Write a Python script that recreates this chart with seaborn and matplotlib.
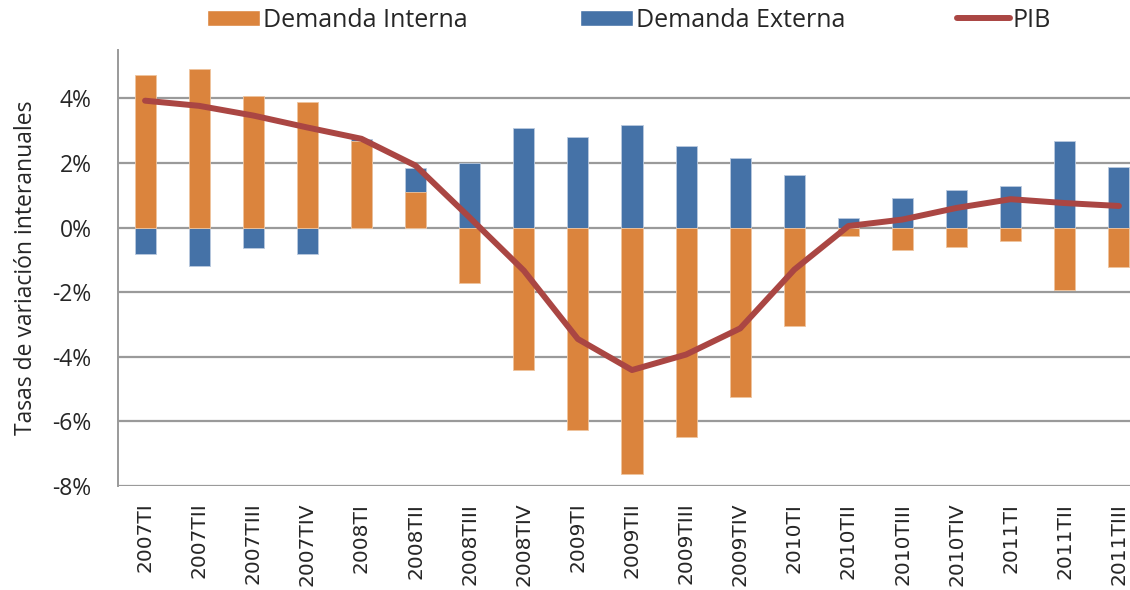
import numpy as np
import pandas as pd
import seaborn as sns
import matplotlib.pyplot as plt
from matplotlib.patches import Patch
from matplotlib.lines import Line2D
from matplotlib.ticker import FuncFormatter

quarters = ['2007TI', '2007TII', '2007TIII', '2007TIV',
            '2008TI', '2008TII', '2008TIII', '2008TIV',
            '2009TI', '2009TII', '2009TIII', '2009TIV',
            '2010TI', '2010TII', '2010TIII', '2010TIV',
            '2011TI', '2011TII', '2011TIII']
demanda_interna = [4.74, 4.92, 4.09, 3.89, 2.67, 1.09, -1.72, -4.40,
                   -6.26, -7.63, -6.49, -5.25, -3.05, -0.25, -0.69, -0.59,
                   -0.43, -1.93, -1.23]
demanda_externa = [-0.82, -1.18, -0.64, -0.82, 0.06, 0.76, 2.01, 3.07,
                   2.79, 3.19, 2.54, 2.14, 1.63, 0.29, 0.93, 1.17,
                   1.29, 2.67, 1.89]
pib = [3.93, 3.77, 3.47, 3.10, 2.75, 1.92, 0.31, -1.33,
       -3.45, -4.41, -3.93, -3.12, -1.30, 0.05, 0.25, 0.61,
       0.88, 0.76, 0.67]

c_int = '#DB843D'
c_ext = '#4572A7'
c_pib = '#AA4643'

df = pd.DataFrame({'trimestre': quarters, 'interna': demanda_interna,
                   'externa': demanda_externa, 'pib': pib})
# excel-style stacking: same-sign values pile up, opposite signs start at zero
same = np.sign(df['interna']) == np.sign(df['externa'])
df['externa_top'] = df['externa'] + np.where(same, df['interna'], 0)

sns.set_style('white')
plt.rcParams['font.family'] = ['Open Sans', 'DejaVu Sans']

fig = plt.figure(figsize=(11.3, 5.9), dpi=100)
ax = fig.add_axes([118 / 1130, 0.1763, 1028 / 1130, 0.739])

sns.barplot(data=df, x='trimestre', y='externa_top', color=c_ext, width=0.39,
            saturation=1, edgecolor='#b9c9de', linewidth=0.6, ax=ax, zorder=2)
sns.barplot(data=df, x='trimestre', y='interna', color=c_int, width=0.39,
            saturation=1, edgecolor='#efc49e', linewidth=0.6, ax=ax, zorder=3)
sns.pointplot(data=df, x='trimestre', y='pib', color=c_pib, markers='',
              linewidth=4.3, solid_capstyle='round', ax=ax, zorder=4)

ax.set_xlim(-0.5, 18.5)
ax.set_ylim(-8, 5.5)
ax.set_yticks([-8, -6, -4, -2, 0, 2, 4])
ax.yaxis.set_major_formatter(FuncFormatter(lambda v, p: f'{v:.0f}%'))
ax.set_axisbelow(True)
ax.grid(axis='y', color='#9a9a9a', linewidth=1.6)
ax.grid(axis='x', visible=False)
for s in ['top', 'right', 'bottom']:
    ax.spines[s].set_visible(False)
ax.spines['left'].set_color('#9a9a9a')
ax.spines['left'].set_linewidth(1.4)

ax.tick_params(axis='y', length=0, pad=19, labelsize=16.5)
ax.tick_params(axis='x', length=0, pad=12, labelrotation=90, labelsize=14.5,
               labelfontfamily='DejaVu Sans')
for lab in ax.get_xticklabels():
    lab.set_va('top')

ax.set_xlabel('')
ax.set_ylabel('Tasas de variación interanuales', fontsize=16.5, labelpad=10)

handles = [Patch(facecolor=c_int, label='Demanda Interna'),
           Patch(facecolor=c_ext, label='Demanda Externa'),
           Line2D([], [], color=c_pib, linewidth=4.3, solid_capstyle='round', label='PIB')]
fig.legend(handles=handles, loc='center', bbox_to_anchor=(0.557, 0.966), ncol=3,
           frameon=False, fontsize=18, handlelength=2.1, handleheight=0.64,
           handletextpad=0.12, columnspacing=4.5, borderaxespad=0)

fig.savefig('out.png', dpi=100)
